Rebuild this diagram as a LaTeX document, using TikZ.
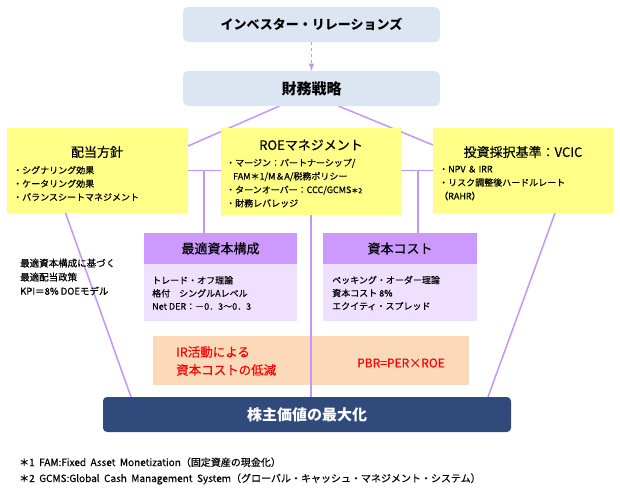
\documentclass[tikz,border=0pt]{standalone}
\usepackage{fontspec}
\setmainfont{Noto Sans CJK JP}[UprightFeatures={FakeBold=0.4}]
\usepackage{tikz}
\usetikzlibrary{calc,backgrounds}
\definecolor{irblue}{RGB}{220,230,242}
\definecolor{jaune}{RGB}{255,255,136}
\definecolor{violet1}{RGB}{204,153,255}
\definecolor{violet2}{RGB}{240,224,255}
\definecolor{orange1}{RGB}{252,217,184}
\definecolor{navy}{RGB}{49,74,124}
\definecolor{lila}{RGB}{196,150,248}

\begin{document}
\begin{tikzpicture}[x=1pt,y=-1pt]
    \tikzset{boite/.style={rectangle,inner sep=0pt,outer sep=0pt,text centered},
      irbox/.style={boite,fill=irblue,rounded corners=5pt,minimum width=257pt,minimum height=35pt},
      ybox/.style={boite,fill=jaune,minimum width=180pt,minimum height=85pt},
      phead/.style={boite,fill=violet1,minimum width=153pt,minimum height=31pt,font=\fontsize{13}{15}\selectfont},
      pbody/.style={boite,fill=violet2,minimum width=153pt,minimum height=57pt},
      titre/.style={inner sep=0pt,font=\fontsize{13}{15}\selectfont},
      texte/.style={inner sep=0pt,align=left,anchor=west,font=\fontsize{9}{13.5}\selectfont}}
    \tikzstyle{lien}=[color=lila,line width=1.5pt]
    \tikzstyle{fleche}=[->,>=latex,dashed,color=lila,line width=1.5pt]
    \useasboundingbox (0,0) rectangle (620,496);

    \node[irbox,font=\bfseries\fontsize{13}{15}\selectfont] (IR) at (311.5,24.5) {インベスター・リレーションズ};
    \node[irbox,font=\bfseries\fontsize{15}{17}\selectfont] (FIN) at (311.5,88.5) {財務戦略};
    \draw[fleche] (IR)--(FIN);

    \node[ybox,minimum width=181pt] (DIV) at (97.5,170.5) {};
    \node[ybox,minimum height=87pt] (ROE) at (311,171.5) {};
    \node[ybox] (VCIC) at (523,170.5) {};
    \node[titre] (DIVT) at (97,152) {配当方針};
    \node[titre] (ROET) at (311,145) {ROEマネジメント};
    \node[titre] (VCICT) at (523,152) {投資採択基準：VCIC};
    \node[texte] (DIVB) at (13,183.5) {・シグナリング効果\\・ケータリング効果\\・バランスシートマネジメント};
    \node[texte] (ROEB) at (226,183) {・マージン：パートナーシップ/\\\hspace*{7pt}FAM＊1/M＆A/税務ポリシー\\・ターンオーバー：CCC/GCMS{\fontsize{7}{8}\selectfont ＊2}\\・財務レバレッジ};
    \node[texte] (VCICB) at (439,183) {・NPV ＆ IRR\\・リスク調整後ハードルレート\\（RAHR）};

    \coordinate (JG) at ($(DIV.east)+(16,0)$);
    \coordinate (JD) at ($(VCIC.west)+(-15,0)$);
    \node[phead] (OPTH) at (220.5,248.5) {最適資本構成};
    \node[pbody] (OPTB) at (220.5,292.5) {};
    \node[texte,font=\fontsize{9}{13}\selectfont] (OPTT) at (152,293) {トレード・オフ理論\\格付　シングルAレベル\\Net DER：－0．3～0．3};
    \node[phead,minimum width=154pt] (COSTH) at (400,248.5) {資本コスト};
    \node[pbody,minimum width=154pt] (COSTB) at (400,292.5) {};
    \node[texte,font=\fontsize{9}{13}\selectfont] (COSTT) at (332,293) {ペッキング・オーダー理論\\資本コスト 8\%\\エクイティ・スプレッド};
    \draw[lien] (DIV.east) -- (DIV.east -| ROE.west);
    \draw[lien] (JG) -- (JG |- OPTH.north);
    \draw[lien] (VCIC.west -| ROE.east) -- (VCIC.west);
    \draw[lien] (JD) -- (JD |- COSTH.north);

    \node[texte,font=\fontsize{9.5}{14}\selectfont] (KPI) at (20,277) {最適資本構成に基づく\\最適配当政策\\KPI＝8\% DOEモデル};

    \node[boite,fill=orange1,minimum width=316pt,minimum height=49pt] (IRC) at (311,360.5) {};
    \node[texte,text=red,font=\fontsize{12.5}{18}\selectfont] (IRCT) at (176,361) {IR活動による\\資本コストの低減};
    \node[titre,text=red,font=\fontsize{12}{14}\selectfont] (PBR) at (401,363) {PBR=PER×ROE};

    \node[boite,fill=navy,rounded corners=4pt,minimum width=408pt,minimum height=35pt,text=white,font=\bfseries\fontsize{15}{17}\selectfont] (SV) at (307,414.5) {株主価値の最大化};
    \draw[lien] (ROE.south) -- (ROE.south |- SV.north);

    \begin{scope}[on background layer]
      \draw[lien] ($(FIN.south)+(-32,0)$) -- ($(DIV.north east)+(0,18)$);
      \draw[lien] ($(FIN.south)+(27,0)$) -- ($(VCIC.north west)+(0,17)$);
      \draw[lien] ($(DIV.south)+(-32,0)$) -- ($(SV.north west)+(28,0)$);
      \draw[lien] ($(VCIC.south)+(32,0)$) -- ($(SV.north east)+(-23,0)$);
    \end{scope}

    \node[texte,font=\fontsize{10}{16}\selectfont] (FN) at (19,471) {＊1\ \ FAM:Fixed\ \ Asset\ \ Monetization（固定資産の現金化）\\＊2\ \ GCMS:Global\ \ Cash\ \ Management\ \ System（グローバル・キャッシュ・マネジメント・システム）};
\end{tikzpicture}
\end{document}
